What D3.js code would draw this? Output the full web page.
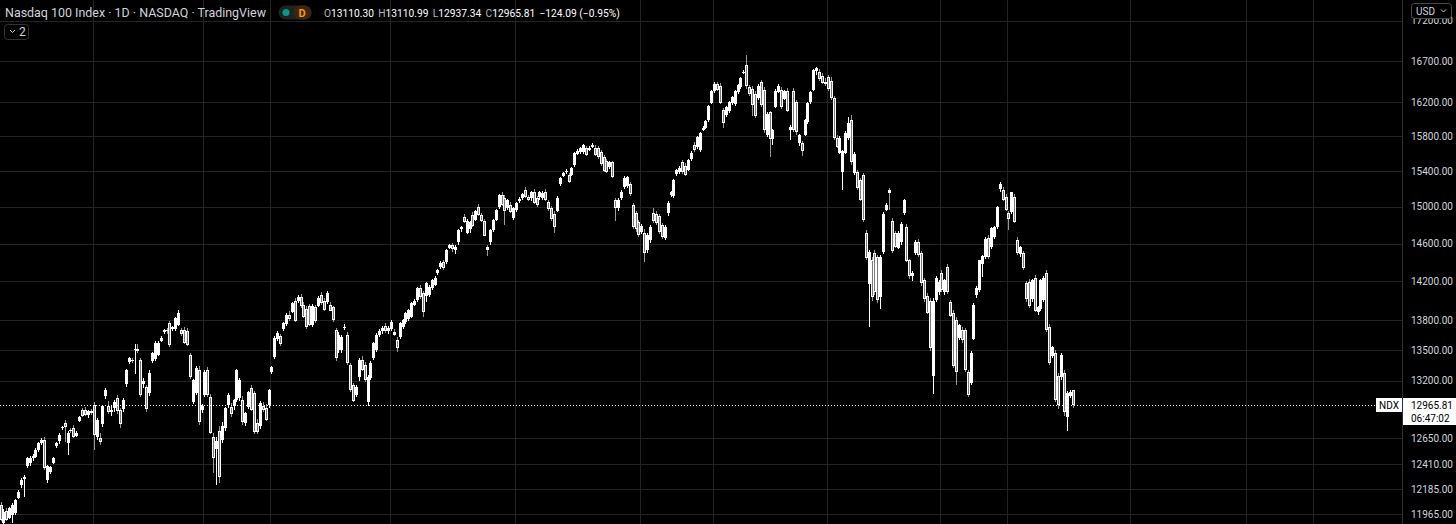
<!DOCTYPE html>
<html>
<head>
<meta charset="utf-8">
<script src="https://cdn.jsdelivr.net/npm/d3@7"></script>
<style>
  body { margin: 0; background: #000; overflow: hidden; }
  svg { display: block; }
  text { font-family: Roboto, "Liberation Sans", sans-serif; }
</style>
</head>
<body>
<script>
// daily bars, [open, high, low, close], oldest first
const ohlc = [
[12045,12070,11900,11915],[11890,12010,11880,11985],[11995,12020,11905,11915],[11930,12030,11920,12015],
[11960,12060,11885,12045],[11975,12100,11955,12090],[12110,12175,12100,12160],[12225,12285,12200,12270],
[12280,12310,12115,12295],[12395,12480,12380,12470],[12420,12490,12400,12470],[12470,12510,12440,12490],
[12480,12560,12470,12540],[12540,12620,12520,12605],[12610,12650,12590,12635],[12635,12660,12360,12380],
[12270,12405,12245,12400],[12340,12400,12320,12385],[12420,12480,12410,12470],[12580,12620,12560,12610],
[12620,12700,12600,12680],[12745,12770,12730,12755],[12790,12820,12620,12755],[12610,12720,12500,12700],
[12725,12750,12700,12715],[12750,12780,12650,12665],[12680,12720,12660,12705],[12810,12860,12800,12850],
[12920,12940,12850,12865],[12920,12945,12860,12870],[12865,12915,12840,12905],[12910,12930,12870,12890],
[12965,12990,12540,12680],[12665,12840,12640,12820],[12650,12700,12590,12615],[12780,12965,12760,12955],
[13045,13130,13020,13105],[12960,13000,12880,12900],[12900,12960,12860,12920],[12930,13010,12900,12990],
[13030,13060,12880,12910],[12915,12940,12750,12785],[12920,13030,12900,13010],[13160,13310,13140,13300],
[13380,13430,13360,13420],[13400,13420,13370,13390],[13500,13560,13260,13510],[13510,13560,13470,13490],
[13400,13420,13040,13060],[13170,13230,13130,13200],[13140,13160,12900,12925],[13080,13300,13050,13270],
[13390,13480,13370,13470],[13410,13590,13390,13570],[13460,13590,13440,13575],[13590,13640,13580,13620],
[13680,13710,13660,13700],[13700,13720,13660,13685],[13770,13790,13530,13550],[13710,13740,13690,13730],
[13710,13830,13690,13820],[13750,13900,13740,13870],[13700,13720,13640,13660],[13700,13730,13560,13570],
[13690,13720,13540,13550],[13450,13470,13220,13235],[12995,13220,12970,13205],[13080,13340,13060,13320],
[13300,13340,12780,12800],[12920,12970,12890,12960],[13060,13300,13040,13285],[13300,13330,13040,13060],
[13040,13070,12690,12700],[12660,12700,12330,12470],[12560,12660,12220,12630],[12720,12770,12240,12300],
[12640,12800,12610,12770],[12750,12950,12720,12940],[12960,13080,12940,13060],[12950,12980,12850,12880],
[12950,13020,12920,13010],[13010,13310,12990,13300],[13040,13230,13000,13210],[13010,13050,12780,12800],
[12800,12900,12770,12890],[12950,13100,12930,13090],[13130,13160,12910,12920],[13080,13100,12690,12710],
[12790,12830,12690,12705],[12770,13000,12740,12985],[12960,12990,12900,12925],[12940,12970,12810,12830],
[12960,13120,12940,13105],[13280,13340,13260,13330],[13430,13640,13410,13620],[13610,13690,13590,13670],
[13640,13660,13540,13560],[13710,13780,13690,13770],[13760,13870,13740,13855],[13850,13890,13790,13810],
[13890,13990,13870,13980],[14000,14030,13780,13800],[14000,14060,13980,14040],[14040,14070,13920,13945],
[13960,13990,13820,13840],[13910,13940,13710,13730],[13950,13970,13740,13760],[13760,13970,13730,13950],
[13930,13960,13770,13790],[13950,14050,13930,14030],[14060,14090,13960,13980],[14000,14030,13890,13910],
[13990,14100,13970,14080],[13960,13990,13890,13900],[13930,13950,13780,13800],[13700,13720,13390,13420],
[13500,13680,13470,13650],[13500,13650,13470,13630],[13720,13760,13700,13735],[13650,13680,13350,13370],
[13350,13370,13090,13110],[13160,13180,12990,13010],[13060,13160,13040,13140],[13230,13420,13200,13400],
[13400,13440,13290,13305],[13350,13380,13190,13205],[12990,13250,12960,13235],[13230,13390,13210,13375],
[13420,13580,13400,13570],[13500,13670,13480,13650],[13650,13710,13630,13690],[13690,13740,13660,13720],
[13740,13770,13670,13690],[13690,13740,13660,13720],[13710,13800,13690,13780],[13680,13710,13640,13650],
[13600,13630,13480,13525],[13630,13780,13610,13770],[13730,13810,13710,13800],[13780,13880,13760,13870],
[13810,13910,13790,13900],[13840,13990,13820,13980],[13960,14020,13940,14000],[14010,14140,13990,14130],
[14130,14160,14020,14040],[14080,14100,13830,13880],[14040,14190,13990,14180],[14060,14160,14040,14140],
[14130,14230,14110,14215],[14170,14260,14150,14240],[14290,14330,14270,14320],[14350,14410,14330,14390],
[14400,14430,14320,14340],[14400,14540,14380,14530],[14560,14600,14540,14590],[14580,14610,14510,14535],
[14530,14580,14490,14560],[14610,14760,14590,14745],[14750,14790,14730,14775],[14890,14920,14820,14830],
[14720,14870,14700,14850],[14750,14840,14720,14830],[14910,14940,14780,14790],[14860,14970,14840,14960],
[15000,15030,14900,14910],[14910,14930,14830,14840],[14850,14870,14680,14690],[14560,14590,14470,14530],
[14610,14760,14590,14745],[14750,14870,14730,14855],[14860,14980,14840,14965],[15000,15140,14980,15130],
[15130,15160,15010,15020],[15100,15130,14800,14960],[14990,15090,14970,15075],[15020,15050,14930,14945],
[14880,15000,14860,14985],[14960,15050,14940,15040],[15070,15110,15040,15090],[15100,15150,15080,15140],
[15190,15220,15100,15115],[15110,15130,15060,15075],[15090,15180,15070,15160],[15170,15200,15030,15050],
[15100,15120,15000,15020],[15100,15180,15080,15160],[15100,15180,15080,15155],[15170,15200,15060,15080],
[15050,15080,14950,14970],[14990,15010,14840,14870],[14920,14950,14720,14780],[14960,15120,14940,15100],
[15250,15330,15230,15320],[15350,15390,15330,15380],[15390,15420,15370,15400],[15360,15380,15270,15285],
[15360,15450,15340,15440],[15470,15620,15450,15610],[15600,15650,15580,15630],[15620,15680,15600,15665],
[15620,15710,15600,15700],[15660,15690,15570,15585],[15650,15690,15630,15670],[15680,15720,15660,15700],
[15670,15700,15570,15590],[15660,15690,15540,15560],[15620,15640,15460,15480],[15560,15580,15390,15400],
[15520,15540,15380,15390],[15440,15520,15420,15500],[15500,15520,15320,15330],[15080,15100,14840,14990],
[14990,15100,14960,15080],[15100,15190,15080,15170],[15220,15340,15200,15320],[15230,15350,15210,15335],
[15250,15280,15120,15140],[15020,15040,14760,14780],[14930,14960,14730,14750],[14830,14860,14670,14690],
[14730,14810,14700,14790],[14720,14760,14400,14500],[14530,14710,14500,14690],[14640,14800,14610,14780],
[14930,14990,14820,14840],[14920,14950,14800,14820],[14900,14920,14700,14730],[14800,14820,14650,14670],
[14660,14800,14640,14780],[14930,15060,14900,15040],[15130,15180,15110,15165],[15120,15310,15100,15300],
[15360,15420,15340,15410],[15390,15460,15370,15440],[15500,15530,15370,15390],[15460,15490,15340,15360],
[15420,15540,15400,15530],[15540,15630,15520,15610],[15700,15730,15620,15640],[15670,15800,15650,15790],
[15640,15850,15620,15840],[15880,15920,15860,15900],[15900,15990,15880,15980],[15990,16170,15970,16160],
[16200,16350,16180,16340],[16330,16440,16310,16420],[16420,16450,16330,16350],[16400,16430,16180,16200],
[16110,16130,15900,15960],[16050,16160,16030,16150],[16090,16220,16070,16200],[16190,16280,16170,16260],
[16180,16350,16160,16330],[16320,16420,16300,16405],[16380,16500,16360,16490],[16560,16590,16540,16570],
[16650,16770,16360,16390],[16380,16410,16270,16290],[16360,16390,16040,16170],[16300,16330,16020,16040],
[16250,16420,16230,16400],[16440,16470,16140,16170],[16350,16380,15840,15870],[15810,16080,15790,16060],
[16080,16100,15560,15760],[15760,15880,15700,15870],[16150,16360,16130,16340],[16330,16420,16310,16400],
[16350,16380,16120,16150],[16250,16350,16230,16340],[16340,16370,16080,16100],[15880,15930,15760,15910],
[16340,16370,15850,15880],[16200,16230,15820,15850],[15720,15830,15690,15815],[15720,15740,15570,15630],
[15820,16000,15800,15990],[15960,16200,15940,16190],[16200,16330,16180,16320],[16350,16600,16330,16590],
[16570,16630,16530,16610],[16560,16600,16460,16470],[16520,16550,16420,16430],[16440,16490,16400,16410],
[16500,16530,16330,16350],[16460,16500,16230,16250],[16250,16280,15760,15780],[15780,15820,15660,15680],
[15610,15800,15590,15780],[15390,15640,15190,15630],[15610,15860,15590,15840],[15780,16030,15760,15960],
[15990,16050,15470,15500],[15380,15620,15360,15600],[15390,15410,15190,15210],[15300,15320,15060,15080],
[15360,15380,14830,14860],[14720,14750,14420,14450],[14170,14530,13730,14510],[14430,14460,14000,14040],
[14500,14530,14060,14090],[14460,14480,13980,14010],[14040,14480,13910,14460],[14510,14940,14490,14920],
[14970,15040,14950,15020],[15190,15210,14970,15160],[14850,14880,14500,14530],[14710,14740,14550,14560],
[14560,14740,14540,14720],[14610,14830,14590,14810],[14930,15090,14910,15075],[14780,14810,14400,14420],
[14420,14440,14230,14250],[14260,14310,14200,14290],[14500,14640,14480,14620],[14620,14650,14460,14480],
[14500,14520,14150,14180],[14210,14240,13990,14010],[14050,14080,13860,13880],[14000,14030,13490,13520],
[13250,14030,13070,14000],[14010,14260,13990,14240],[14090,14210,14060,14190],[14290,14320,14090,14110],
[14080,14230,14060,14210],[14350,14380,14070,14090],[13990,14010,13830,13850],[13870,13900,13320,13340],
[13800,13830,13160,13280],[13620,13760,13600,13750],[13700,13730,13570,13600],[13700,13720,13280,13300],
[13280,13300,13040,13060],[13180,13490,13160,13470],[13620,13980,13600,13960],[14060,14150,14030,14130],
[14110,14430,14090,14420],[14390,14480,14250,14470],[14460,14670,14440,14650],[14660,14690,14440,14460],
[14560,14780,14540,14770],[14670,14790,14650,14780],[14780,15010,14760,15000],[15190,15280,15160,15250],
[15190,15220,15060,15080],[15110,15140,14950,14970],[14930,14960,14750,14860],[14940,15170,14920,15160],
[15110,15140,14820,14840],[14640,14670,14480,14500],[14480,14570,14460,14560],[14500,14520,14320,14340],
[14180,14200,13990,14010],[14190,14220,13920,13940],[14010,14230,13990,14210],[14240,14270,13880,13900],
[13880,13950,13850,13930],[13910,14230,13890,14210],[14010,14260,13990,14240],[14290,14320,13680,13700],
[13730,13760,13350,13370],[13440,13540,13420,13530],[13470,13500,12990,13010],[13240,13270,12930,12960],
[13230,13470,13210,13450],[13270,13300,12860,12890],[12850,13100,12720,13080],[13050,13110,13030,13089.90],
[13110.30,13110.99,12937.34,12965.81]
];

// right scale labels
const priceTicks = [17200, 16700, 16200, 15800, 15400, 15000, 14600, 14200, 13800, 13500, 13200, 12650, 12410, 12185, 11965];
// bars where the time grid lines fall
const timeMarks = [32, 70, 93, 134, 177, 220, 245, 284, 323, 346, 388, 428, 451];

const title = "Nasdaq 100 Index · 1D · NASDAQ · TradingView";
const symbol = "NDX";
const countdown = "06:47:02";

const W = 1456, H = 524, plotW = 1402;
const gridColor = "#232326";
const fmt = d3.format(".2f");

const svg = d3.select("body").append("svg")
  .attr("width", W)
  .attr("height", H)
  .style("background", "#000");

const x = d3.scaleLinear().domain([0, ohlc.length - 1]).range([1.5, 1073.5]);
const y = d3.scaleLog().domain([11878, 17467]).range([H, 0]);

// grid
const grid = svg.append("g").attr("shape-rendering", "crispEdges");
grid.selectAll(".hg").data(priceTicks).join("line")
  .attr("class", "hg")
  .attr("x1", 0).attr("x2", plotW)
  .attr("y1", d => Math.round(y(d)) + 0.5).attr("y2", d => Math.round(y(d)) + 0.5)
  .attr("stroke", gridColor);
grid.selectAll(".vg").data(timeMarks).join("line")
  .attr("class", "vg")
  .attr("x1", d => Math.round(x(d)) - 1.5).attr("x2", d => Math.round(x(d)) - 1.5)
  .attr("y1", 0).attr("y2", H)
  .attr("stroke", gridColor);

// candles
const bars = svg.append("g").attr("shape-rendering", "crispEdges");
const bar = bars.selectAll("g").data(ohlc).join("g");

bar.append("line")
  .attr("x1", (d, i) => Math.round(x(i)) - 0.5)
  .attr("x2", (d, i) => Math.round(x(i)) - 0.5)
  .attr("y1", d => y(d[1]))
  .attr("y2", d => y(d[2]))
  .attr("stroke", d => d[3] >= d[0] ? "#ffffff" : "#9a9a9a");

bar.append("rect")
  .attr("x", (d, i) => Math.round(x(i)) - 2)
  .attr("width", 3)
  .attr("y", d => Math.round(y(Math.max(d[0], d[3]))))
  .attr("height", d => Math.max(1, Math.round(Math.abs(y(d[0]) - y(d[3])))))
  .attr("fill", "#ffffff");

bar.filter(d => d[3] < d[0] && Math.abs(y(d[0]) - y(d[3])) > 3)
  .append("rect")
  .attr("x", d => Math.round(x(ohlc.indexOf(d))) - 1)
  .attr("width", 1)
  .attr("y", d => Math.round(y(d[0])) + 1)
  .attr("height", d => Math.round(Math.abs(y(d[0]) - y(d[3]))) - 2)
  .attr("fill", "#7a7a7a");

// last price line
const last = ohlc[ohlc.length - 1];
const prev = ohlc[ohlc.length - 2][3];
const ly = Math.round(y(last[3])) + 0.5;
svg.append("line")
  .attr("x1", 0).attr("x2", plotW)
  .attr("y1", ly).attr("y2", ly)
  .attr("stroke", "#ffffff")
  .attr("stroke-dasharray", "1 2");

// price scale
svg.append("line")
  .attr("x1", plotW + 0.5).attr("x2", plotW + 0.5)
  .attr("y1", 0).attr("y2", H)
  .attr("stroke", "#2e2e30");

svg.append("g").selectAll("text").data(priceTicks.slice(1)).join("text")
  .attr("x", 1411)
  .attr("y", d => y(d) + 3.5)
  .attr("font-size", 10)
  .attr("fill", "#d1d4dc")
  .text(d => fmt(d));

// top label sits partly under the currency button, as in the reference
svg.append("text")
  .attr("x", 1411)
  .attr("y", y(priceTicks[0]) + 3.5)
  .attr("font-size", 10)
  .attr("fill", "#d1d4dc")
  .text(fmt(priceTicks[0]));

// symbol + price labels
svg.append("rect").attr("x", 1376).attr("y", ly - 7.5).attr("width", 26).attr("height", 14).attr("fill", "#ffffff");
svg.append("text").attr("x", 1389).attr("y", ly + 3.5).attr("text-anchor", "middle")
  .attr("font-size", 10).attr("fill", "#000").text(symbol);
svg.append("rect").attr("x", 1403).attr("y", ly - 7.5).attr("width", 53).attr("height", 27).attr("fill", "#ffffff");
svg.append("text").attr("x", 1411).attr("y", ly + 3.5).attr("font-size", 10).attr("fill", "#000")
  .text(fmt(last[3]));
svg.append("text").attr("x", 1411).attr("y", ly + 16.5).attr("font-size", 10).attr("fill", "#000")
  .text(countdown);

// currency button (drawn over the top label)
svg.append("rect").attr("x", 1411.5).attr("y", 3.5).attr("width", 40).attr("height", 15).attr("rx", 3)
  .attr("fill", "#000").attr("stroke", "#4a4a4a");
svg.append("text").attr("x", 1416).attr("y", 14.5).attr("font-size", 10).attr("fill", "#d1d4dc").text("USD");
svg.append("path").attr("d", "M1441,9.5 l2.5,2.5 l2.5,-2.5").attr("fill", "none").attr("stroke", "#d1d4dc");

// legend
svg.append("text").attr("x", 5).attr("y", 17).attr("font-size", 13).attr("fill", "#d1d4dc")
  .attr("textLength", 261).attr("lengthAdjust", "spacingAndGlyphs").text(title);

svg.append("rect").attr("x", 278.5).attr("y", 5.5).attr("width", 33).attr("height", 14).attr("rx", 7).attr("fill", "#1c2422");
svg.append("rect").attr("x", 293.5).attr("y", 5.5).attr("width", 18).attr("height", 14).attr("rx", 7).attr("fill", "#3a2612");
svg.append("circle").attr("cx", 286).attr("cy", 12.5).attr("r", 3.5).attr("fill", "#089981");
svg.append("text").attr("x", 302).attr("y", 17).attr("text-anchor", "middle").attr("font-size", 11)
  .attr("font-weight", "bold").attr("fill", "#ff9800").text("D");

const chg = last[3] - prev;
const signed = v => (v < 0 ? "\u2212" : "+") + fmt(Math.abs(v));
const parts = [];
[["O", last[0]], ["H", last[1]], ["L", last[2]], ["C", last[3]]].forEach(([k, v]) => {
  parts.push({ t: k, c: "#b2b5be", gap: parts.length ? 5 : 0 });
  parts.push({ t: fmt(v), c: "#ffffff", gap: 0 });
});
parts.push({ t: signed(chg) + " (" + signed(chg / prev * 100) + "%)", c: "#ffffff", gap: 5 });

const legendG = svg.append("g");
const lt = legendG.selectAll("text").data(parts).join("text")
  .attr("y", 17).attr("font-size", 12).attr("fill", d => d.c).text(d => d.t);
// fit the legend row into the width it has in the reference
let widths = lt.nodes().map(n => n.getComputedTextLength());
let total = d3.sum(widths) + d3.sum(parts, d => d.gap);
const k = (620 - 324) / total;
lt.attr("font-size", 12 * k);
widths = lt.nodes().map(n => n.getComputedTextLength());
let cx = 324;
lt.each(function (d, i) {
  cx += d.gap * k;
  d3.select(this).attr("x", cx);
  cx += widths[i];
});

// collapsed indicators button
svg.append("rect").attr("x", 4.5).attr("y", 24.5).attr("width", 24).attr("height", 15).attr("rx", 3)
  .attr("fill", "#000").attr("stroke", "#333");
svg.append("path").attr("d", "M10,30 l2.5,2.5 l2.5,-2.5").attr("fill", "none").attr("stroke", "#d1d4dc");
svg.append("text").attr("x", 19).attr("y", 36).attr("font-size", 12).attr("fill", "#d1d4dc").text("2");
</script>
</body>
</html>
